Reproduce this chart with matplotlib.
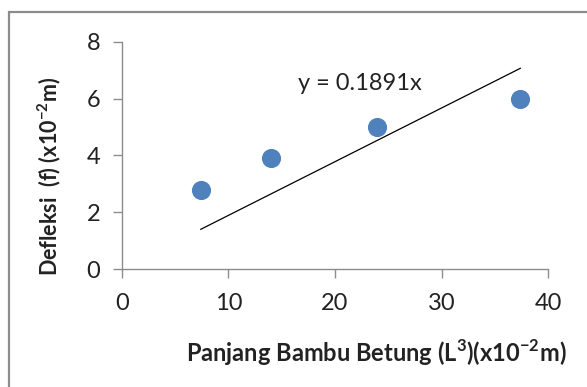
import matplotlib.pyplot as plt
from matplotlib.patches import Rectangle

plt.rcParams['font.family'] = ['Lato', 'DejaVu Sans']
plt.rcParams['mathtext.fontset'] = 'custom'
plt.rcParams['mathtext.rm'] = 'Lato'
plt.rcParams['mathtext.bf'] = 'Lato:bold'

# data
panjang = [7.4, 14.0, 23.9, 37.4]
defleksi = [2.8, 3.9, 5.0, 6.0]
slope = 0.1891
x_ticks = [0, 10, 20, 30, 40]
y_ticks = [0, 2, 4, 6, 8]

fig = plt.figure(figsize=(5.87, 3.87), dpi=100)
ax = fig.add_axes([0.2078, 0.3049, 0.7258, 0.5866])

# outer chart frame (cut off on right and bottom)
fig.patches.append(Rectangle((0.0153, -0.05), 1.2, 0.969 + 0.05, transform=fig.transFigure,
                             fill=False, edgecolor='#8c8c8c', linewidth=1.6))

ax.scatter(panjang, defleksi, s=190, color='#4F81BD', zorder=3, linewidths=0)

# linear trendline through origin, drawn over the data range
x0, x1 = min(panjang), max(panjang)
ax.plot([x0, x1], [slope * x0, slope * x1], color='black', linewidth=0.9, zorder=2)
ax.text(16.5, 6.55, 'y = 0.1891x', fontsize=17, color='#222222', va='center', ha='left')

ax.set_xlim(0, 40)
ax.set_ylim(0, 8)
ax.set_xticks(x_ticks)
ax.set_yticks(y_ticks)
for s in ['top', 'right']:
    ax.spines[s].set_visible(False)
for s in ['left', 'bottom']:
    ax.spines[s].set_color('#8c8c8c')
    ax.spines[s].set_linewidth(1.0)
ax.tick_params(direction='out', length=6.5, width=1.0, color='#8c8c8c',
               labelsize=17, labelcolor='#222222')
ax.tick_params(axis='x', pad=11)
ax.tick_params(axis='y', pad=9)

fig.text(0.6405, 0.088, r'Panjang Bambu Betung (L$^{\mathbf{3}}$)(x10$^{\mathbf{-2}}$m)',
         fontsize=17, fontweight='bold', ha='center', va='center', color='#222222')
fig.text(0.083, 0.545, r'Defleksi  (f) (x10$^{\mathbf{-2}}$m)', rotation=90,
         fontsize=15.5, fontweight='bold', ha='center', va='center', color='#222222')

fig.savefig('out.png', dpi=100)
